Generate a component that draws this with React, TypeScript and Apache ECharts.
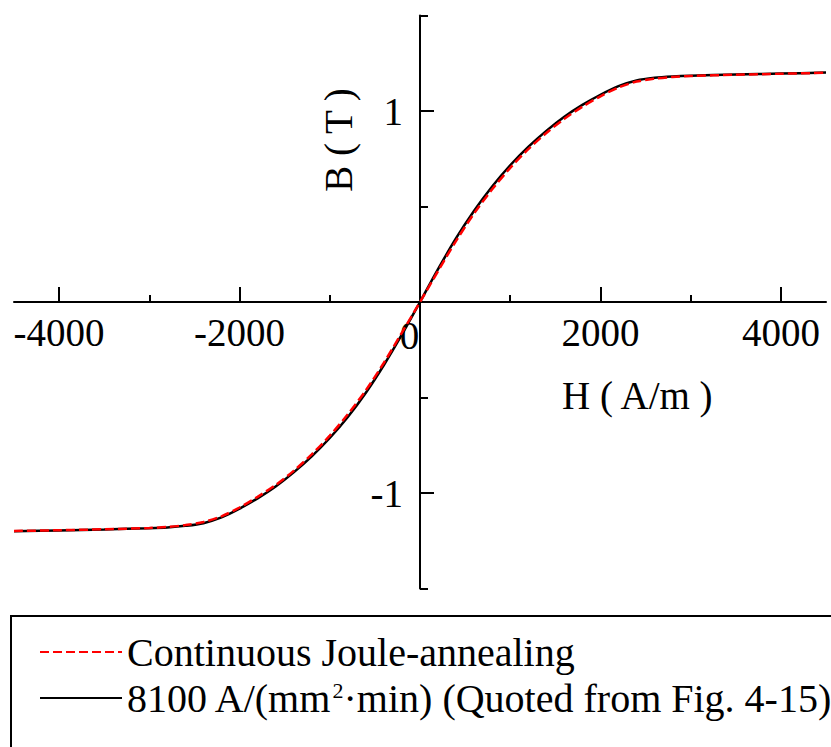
import React, { useEffect, useRef } from 'react';
import * as echarts from 'echarts';

const H = [-4500, -4000, -3500, -3000, -2800, -2600, -2400, -2200, -2000, -1800, -1600, -1400, -1200, -1000, -800, -600, -400, -200, 0, 200, 400, 600, 800, 1000, 1200, 1400, 1600, 1800, 2000, 2200, 2400, 2600, 2800, 3000, 3500, 4000, 4500];

const bJoule = [-1.199, -1.195, -1.19, -1.183, -1.178, -1.168, -1.152, -1.122, -1.076, -1.02, -0.958, -0.884, -0.798, -0.7, -0.588, -0.462, -0.318, -0.16, 0, 0.162, 0.32, 0.464, 0.59, 0.702, 0.8, 0.885, 0.959, 1.022, 1.077, 1.123, 1.154, 1.169, 1.178, 1.183, 1.19, 1.195, 1.2];

const b8100 = [-1.2, -1.196, -1.191, -1.184, -1.18, -1.172, -1.158, -1.128, -1.082, -1.028, -0.966, -0.892, -0.808, -0.712, -0.602, -0.475, -0.33, -0.17, 0, 0.172, 0.334, 0.478, 0.605, 0.716, 0.812, 0.896, 0.97, 1.032, 1.085, 1.13, 1.16, 1.174, 1.181, 1.185, 1.191, 1.196, 1.201];

const xMajorTicks = [-4000, -2000, 0, 2000, 4000];
const xMinorTicks = [-3000, -1000, 1000, 3000];
const yMajorTicks = [-1, 1];
const yMinorTicks = [-1.5, -0.5, 0.5, 1.5];

const nameJoule = 'Continuous Joule-annealing';
const name8100 = '8100 A/(mm²·min) (Quoted from Fig. 4-15)';
const xTitle = 'H ( A/m )';
const yTitle = 'B ( T )';

const FONT = '"Liberation Serif", "Times New Roman", serif';

// layout (pixels)
const GRID_LEFT = 14;
const GRID_RIGHT = 5;
const GRID_TOP = 15.5;
const GRID_BOTTOM = 158.5;
const W = 831;
const HGT = 747;
const ZERO_X = GRID_LEFT + (W - GRID_LEFT - GRID_RIGHT) / 2;
const ZERO_Y = GRID_TOP + (HGT - GRID_TOP - GRID_BOTTOM) / 2;
const X_OFFSET = -(HGT - GRID_BOTTOM - ZERO_Y);
const Y_OFFSET = -(ZERO_X - GRID_LEFT);

export default function App() {
  const ref = useRef<HTMLDivElement>(null);
  useEffect(() => {
    if (!ref.current) return;
    const chart = echarts.init(ref.current, null, { renderer: 'svg' });
    const axisLineStyle = { color: '#000', width: 2 };
    const option: any = {
      animation: false,
      backgroundColor: '#fff',
      grid: { left: GRID_LEFT, right: GRID_RIGHT, top: GRID_TOP, bottom: GRID_BOTTOM, containLabel: false, outerBoundsMode: 'none' },
      xAxis: [
        {
          type: 'value', min: -4500, max: 4500, position: 'bottom', offset: X_OFFSET,
          axisLine: { show: true, onZero: false, lineStyle: axisLineStyle },
          axisTick: { show: true, inside: true, length: 15, lineStyle: axisLineStyle, customValues: xMajorTicks },
          axisLabel: {
            show: true, margin: 11, customValues: xMajorTicks,
            fontFamily: FONT, fontSize: 39, color: '#000',
            formatter: (v: number) => (v === 0 ? '{z|0}' : String(v)),
            rich: { z: { fontFamily: FONT, fontSize: 39, color: '#000', padding: [3, 21, 0, 0] } },
          },
          splitLine: { show: false },
        },
        {
          type: 'value', min: -4500, max: 4500, position: 'bottom', offset: X_OFFSET,
          axisLine: { show: false, onZero: false },
          axisTick: { show: true, inside: true, length: 7, lineStyle: axisLineStyle, customValues: xMinorTicks },
          axisLabel: { show: false, customValues: xMinorTicks },
          splitLine: { show: false },
        },
      ],
      yAxis: [
        {
          type: 'value', min: -1.5, max: 1.5, position: 'left', offset: Y_OFFSET,
          axisLine: { show: true, onZero: false, lineStyle: axisLineStyle },
          axisTick: { show: true, inside: true, length: 14, lineStyle: axisLineStyle, customValues: yMajorTicks },
          axisLabel: {
            show: true, margin: 17, customValues: yMajorTicks,
            fontFamily: FONT, fontSize: 39, color: '#000',
            formatter: (v: number) => String(v),
          },
          splitLine: { show: false },
        },
        {
          type: 'value', min: -1.5, max: 1.5, position: 'left', offset: Y_OFFSET,
          axisLine: { show: false, onZero: false },
          axisTick: { show: true, inside: true, length: 8, lineStyle: axisLineStyle, customValues: yMinorTicks },
          axisLabel: { show: false, customValues: yMinorTicks },
          splitLine: { show: false },
        },
      ],
      legend: {
        orient: 'vertical',
        left: 11,
        top: 614,
        padding: [18, 10, 5, 28],
        itemGap: 6,
        itemWidth: 82,
        itemHeight: 2,
        align: 'left',
        data: [nameJoule, name8100],
        itemStyle: { borderWidth: 0 },
        textStyle: {
          fontFamily: FONT, fontSize: 40, color: '#000', lineHeight: 38,
          rich: {
            t: { fontFamily: FONT, fontSize: 40, color: '#000', lineHeight: 38 },
            sup: { fontFamily: FONT, fontSize: 22, color: '#000', lineHeight: 4, verticalAlign: 'top' },
          },
        },
        formatter: (name: string) =>
          name === name8100 ? '{t|8100 A/(mm}{sup|2}{t|·min) (Quoted from Fig. 4-15)}' : '{t|' + name + '}',
      },
      series: [
        {
          name: name8100,
          type: 'line',
          xAxisIndex: 0, yAxisIndex: 0,
          data: H.map((h, i) => [h, b8100[i]]),
          symbol: 'none',
          smooth: 0.3,
          lineStyle: { color: '#000', width: 2.5, type: 'solid' },
          itemStyle: { color: '#000' },
          z: 2,
        },
        {
          name: nameJoule,
          type: 'line',
          xAxisIndex: 0, yAxisIndex: 0,
          data: H.map((h, i) => [h, bJoule[i]]),
          symbol: 'none',
          smooth: 0.3,
          lineStyle: { color: '#ff0000', width: 2.5, type: [9, 4] },
          itemStyle: { color: '#ff0000' },
          z: 3,
        },
      ],
      graphic: [
        {
          type: 'rect', z: -1, silent: true,
          shape: { x: 11, y: 616, width: 900, height: 300 },
          style: { fill: 'none', stroke: '#000', lineWidth: 2 },
        },
        {
          type: 'text', x: 562, y: 395,
          style: { text: xTitle, font: '39px ' + FONT, fill: '#000', align: 'left', verticalAlign: 'middle' },
        },
        {
          type: 'text', x: 338, y: 140, rotation: Math.PI / 2,
          style: { text: yTitle, font: '39px ' + FONT, fill: '#000', align: 'center', verticalAlign: 'middle' },
        },
      ],
    };
    chart.setOption(option);
    return () => chart.dispose();
  }, []);
  return <div ref={ref} style={{ position: 'fixed', left: 0, top: 0, width: W, height: HGT, background: '#fff' }} />;
}
